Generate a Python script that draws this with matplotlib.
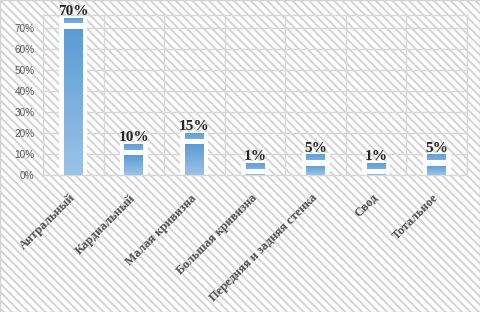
import matplotlib
matplotlib.use("Agg")
import matplotlib.pyplot as plt
import numpy as np
from matplotlib.patches import Rectangle
from matplotlib.colors import LinearSegmentedColormap
import matplotlib.transforms as mtransforms

categories = ["Антральный", "Кардиальный", "Малая кривизна", "Большая кривизна",
              "Передняя и задняя стенка", "Свод", "Тотальное"]
values = [0.70, 0.10, 0.15, 0.01, 0.05, 0.01, 0.05]
labels = ["70%", "10%", "15%", "1%", "5%", "1%", "5%"]
yticks = [0.0, 0.1, 0.2, 0.3, 0.4, 0.5, 0.6, 0.7]
ytick_labels = ["0%", "10%", "20%", "30%", "40%", "50%", "60%", "70%"]

plt.rcParams["hatch.linewidth"] = 1.4

fig = plt.figure(figsize=(4.8, 3.12), dpi=100)
bg = Rectangle((0, 0), 1, 1, transform=fig.transFigure, facecolor="white",
               edgecolor="#d4d4d4", hatch="\\\\\\\\", linewidth=1.0, zorder=-10)
fig.patches.append(bg)

ax = fig.add_axes([43/480, 1-175/312, 424/480, 160/312])
ax.set_facecolor("none")
ax.set_xlim(-0.5, len(categories) - 0.5)
ax.set_ylim(0, 0.76)

ax.set_yticks(yticks)
ax.set_yticklabels(ytick_labels, fontfamily="Liberation Sans", fontsize=7.2, color="#595959")
ax.set_xticks(np.arange(-0.5, len(categories)), minor=False)
ax.set_xticklabels([])
ax.tick_params(axis="both", length=0)
ax.tick_params(axis="y", pad=6)
ax.grid(True, color="#d9d9d9", linewidth=1.0, zorder=0)
for s in ax.spines.values():
    s.set_color("#d9d9d9")
    s.set_linewidth(1.0)

cmap = LinearSegmentedColormap.from_list("g", ["#9dc3e6", "#5b9bd5"])
grad = np.linspace(0, 1, 256).reshape(-1, 1)

for i, (v, lab) in enumerate(zip(values, labels)):
    # white outline region
    ax.add_patch(Rectangle((i - 0.23, 0), 0.46, v + 0.055, facecolor="white",
                           edgecolor="none", zorder=2))
    # body
    top = max(v - 0.005, 0.004)
    body = Rectangle((i - 0.155, 0), 0.31, top, facecolor="none", edgecolor="none", zorder=3)
    ax.add_patch(body)
    im = ax.imshow(grad, extent=(i - 0.155, i + 0.155, 0, top), origin="lower",
                   cmap=cmap, aspect="auto", zorder=3)
    im.set_clip_path(body)
    # cap
    cap = Rectangle((i - 0.155, v + 0.02), 0.31, 0.028, facecolor="none", edgecolor="none", zorder=3)
    ax.add_patch(cap)
    im2 = ax.imshow(np.linspace(0.55, 0.9, 32).reshape(-1, 1),
                    extent=(i - 0.155, i + 0.155, v + 0.02, v + 0.048), origin="lower",
                    cmap=cmap, vmin=0, vmax=1, aspect="auto", zorder=3)
    im2.set_clip_path(cap)
    ax.text(i, v + 0.078, lab, ha="center", va="center", fontfamily="Liberation Serif",
            fontweight="bold", fontsize=11, color="#262626", zorder=5, clip_on=False)

ax.set_xlim(-0.5, len(categories) - 0.5)
ax.set_ylim(0, 0.76)

for i, c in enumerate(categories):
    ax.text(i - 0.07, -0.106, c, transform=mtransforms.blended_transform_factory(ax.transData, ax.transAxes),
            rotation=45, ha="right", va="top", rotation_mode="anchor",
            fontfamily="Liberation Serif", fontweight="bold", fontsize=9, color="#505050")

fig.savefig("out.png", dpi=100)
